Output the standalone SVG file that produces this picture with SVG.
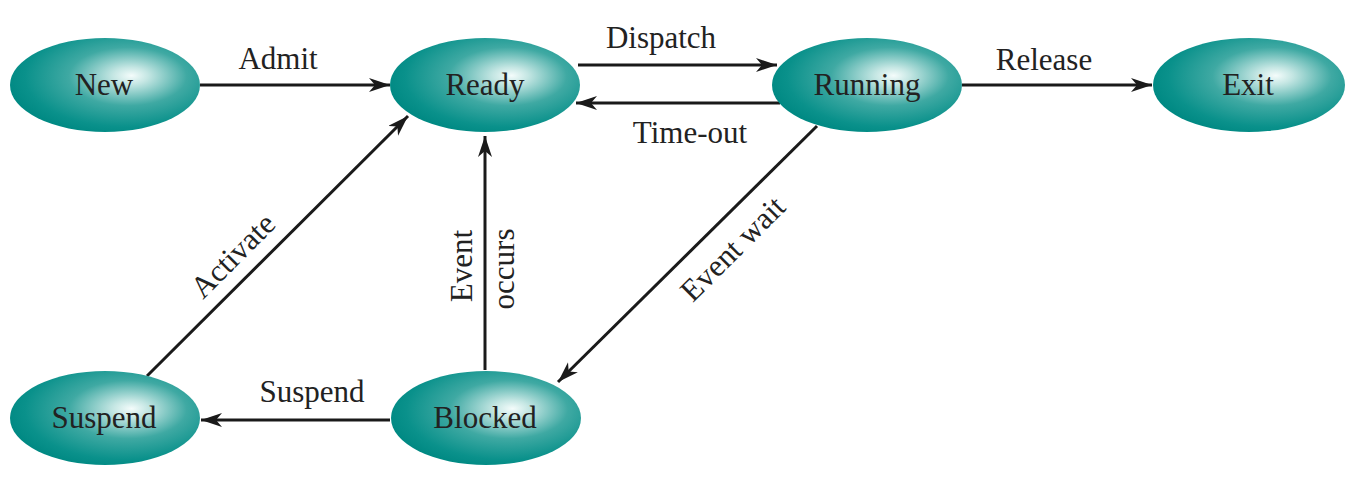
<svg xmlns="http://www.w3.org/2000/svg" width="1366" height="481" viewBox="0 0 1366 481">
<defs>
<radialGradient id="teal" cx="0.6" cy="0.42" r="0.62" fx="0.64" fy="0.4">
<stop offset="0" stop-color="#f4fcfb"/>
<stop offset="0.15" stop-color="#c4e6e3"/>
<stop offset="0.5" stop-color="#3fa9a3"/>
<stop offset="0.85" stop-color="#0a918b"/>
<stop offset="1" stop-color="#008983"/>
</radialGradient>
<marker id="arr" markerUnits="userSpaceOnUse" markerWidth="24" markerHeight="16" refX="21" refY="7" orient="auto">
<path d="M0,0 L21,7 L0,14 L6,7 z" fill="#1a1a1a"/>
</marker>
<style>
.node ellipse{fill:url(#teal);}
.node text{font-family:"Liberation Serif","Times New Roman",serif;font-size:31px;fill:#222;text-anchor:middle;}
.edge line{stroke:#1a1a1a;stroke-width:3;marker-end:url(#arr);}
.lbl{font-family:"Liberation Serif","Times New Roman",serif;font-size:31px;fill:#222;text-anchor:middle;}
</style>
</defs>
<rect width="1366" height="481" fill="#ffffff"/>
<g id="connectors" class="edge">
<line x1="200" y1="85" x2="390" y2="85"/>
<line x1="578" y1="65" x2="777" y2="65"/>
<line x1="780" y1="103" x2="576" y2="103"/>
<line x1="962" y1="85" x2="1152" y2="85"/>
<line x1="817" y1="126" x2="558" y2="382"/>
<line x1="485" y1="370" x2="485" y2="136"/>
<line x1="390" y1="420" x2="201" y2="420"/>
<line x1="147" y1="376" x2="408" y2="116"/>
</g>
<g id="labels">
<text class="lbl" x="278" y="69">Admit</text>
<text class="lbl" x="661" y="48">Dispatch</text>
<text class="lbl" x="690" y="143">Time-out</text>
<text class="lbl" x="1044" y="70">Release</text>
<text class="lbl" x="312" y="402">Suspend</text>
<text class="lbl" transform="translate(240,263) rotate(-45)">Activate</text>
<text class="lbl" transform="translate(740,256) rotate(-45)">Event wait</text>
<text class="lbl" transform="translate(472,266) rotate(-90)">Event</text>
<text class="lbl" transform="translate(514,269) rotate(-90)">occurs</text>
</g>
<g id="node-new" class="node">
<ellipse cx="105" cy="85" rx="95" ry="47"/>
<text x="104" y="95">New</text>
</g>
<g id="node-ready" class="node">
<ellipse cx="485" cy="85" rx="95" ry="47"/>
<text x="485" y="95">Ready</text>
</g>
<g id="node-running" class="node">
<ellipse cx="867" cy="85" rx="95" ry="47"/>
<text x="867" y="95">Running</text>
</g>
<g id="node-exit" class="node">
<ellipse cx="1249" cy="85" rx="96" ry="47"/>
<text x="1248" y="95">Exit</text>
</g>
<g id="node-suspend" class="node">
<ellipse cx="105" cy="418" rx="95" ry="47"/>
<text x="104" y="428">Suspend</text>
</g>
<g id="node-blocked" class="node">
<ellipse cx="486" cy="418" rx="95" ry="47"/>
<text x="485" y="428">Blocked</text>
</g>
</svg>
